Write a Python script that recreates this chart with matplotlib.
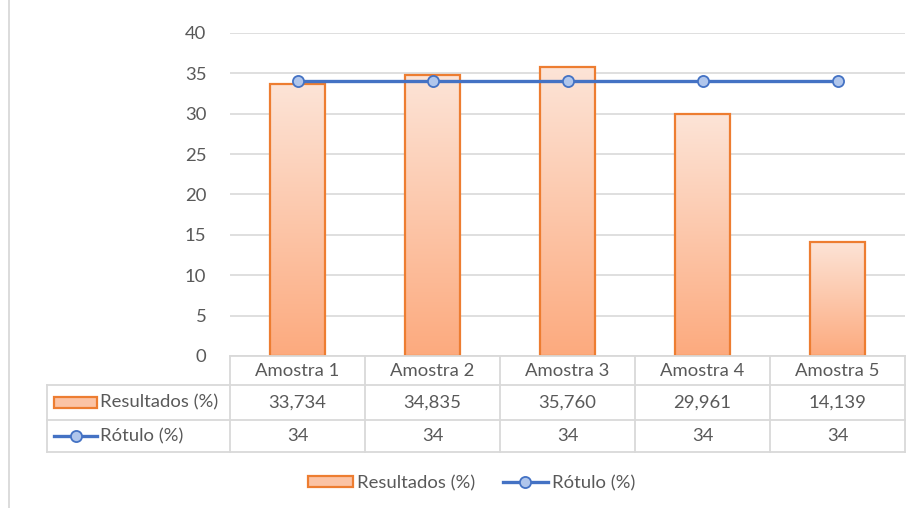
import numpy as np
import matplotlib
matplotlib.use('Agg')
import matplotlib.pyplot as plt
from matplotlib.patches import Rectangle
from matplotlib.lines import Line2D
from matplotlib.colors import LinearSegmentedColormap

# data
categorias = ['Amostra 1', 'Amostra 2', 'Amostra 3', 'Amostra 4', 'Amostra 5']
resultados = [33.734, 34.835, 35.760, 29.961, 14.139]
rotulo = [34, 34, 34, 34, 34]
resultados_txt = ['33,734', '34,835', '35,760', '29,961', '14,139']
rotulo_txt = ['34', '34', '34', '34', '34']
serie_nomes = ['Resultados (%)', 'Rótulo (%)']

plt.rcParams['font.family'] = ['Lato', 'DejaVu Sans']
cinza = '#595959'
grade = '#D9D9D9'
laranja = '#ED7D31'
azul = '#4472C4'
marcador = '#B0C6EC'

W, H = 915, 508
fig = plt.figure(figsize=(W / 100, H / 100), dpi=100)

# plot area in pixels
px_left, px_right = 230, 905
px_top, px_bottom = 33, 356
ax = fig.add_axes([px_left / W, 1 - px_bottom / H,
                   (px_right - px_left) / W, (px_bottom - px_top) / H])

fs = 13.3
n = len(categorias)
x = np.arange(n)
ax.set_xlim(-0.5, n - 0.5)
ax.set_ylim(0, 40)
ax.set_yticks(range(0, 41, 5))
ax.set_xticks([])
ax.tick_params(axis='y', length=0, pad=17, labelsize=fs, labelcolor=cinza)
for s in ax.spines.values():
    s.set_visible(False)
ax.grid(axis='y', color=grade, linewidth=1.2)
ax.set_axisbelow(True)

# gradient bars
cmap = LinearSegmentedColormap.from_list('grad', ['#FCAA7E', '#FDE4D7'])
grad = np.linspace(0, 1, 256).reshape(-1, 1)
largura = 0.41
bars = ax.bar(x, resultados, width=largura, color='none', edgecolor=laranja,
              linewidth=1.6, zorder=3)
for b in bars:
    bx, by = b.get_x(), b.get_y()
    bw, bh = b.get_width(), b.get_height()
    im = ax.imshow(grad, cmap=cmap, origin='lower', aspect='auto',
                   extent=(bx, bx + bw, by, by + bh), zorder=2)
    im.set_clip_path(b)
ax.set_xlim(-0.5, n - 0.5)
ax.set_ylim(0, 40)

ax.plot(x, rotulo, color=azul, linewidth=2.4, marker='o', markersize=8,
        markerfacecolor=marcador, markeredgecolor=azul, markeredgewidth=1.3,
        zorder=4)

# data table drawn in pixel space
tax = fig.add_axes([0, 0, 1, 1])
tax.set_xlim(0, W)
tax.set_ylim(H, 0)
tax.axis('off')
tax.patch.set_alpha(0)

tab_left = 47
row_y = [356, 385, 420, 452]
col_w = (px_right - px_left) / n
col_x = [px_left + i * col_w for i in range(n + 1)]
lc = dict(color=grade, linewidth=1.3)

tax.plot([px_left, px_right], [row_y[0], row_y[0]], **lc)
for yy in row_y[1:]:
    tax.plot([tab_left, px_right], [yy, yy], **lc)
tax.plot([tab_left, tab_left], [row_y[1], row_y[3]], **lc)
for xx in col_x:
    tax.plot([xx, xx], [row_y[0], row_y[3]], **lc)

for i in range(n):
    cx = (col_x[i] + col_x[i + 1]) / 2
    tax.text(cx, (row_y[0] + row_y[1]) / 2, categorias[i], ha='center', va='center',
             fontsize=fs, color=cinza)
    tax.text(cx, (row_y[1] + row_y[2]) / 2, resultados_txt[i], ha='center', va='center',
             fontsize=fs, color=cinza)
    tax.text(cx, (row_y[2] + row_y[3]) / 2, rotulo_txt[i], ha='center', va='center',
             fontsize=fs, color=cinza)

# legend keys in table
y1 = (row_y[1] + row_y[2]) / 2
y2 = (row_y[2] + row_y[3]) / 2
tax.add_patch(Rectangle((54, y1 - 5.5), 43, 11, facecolor='#FBC3A5',
                        edgecolor=laranja, linewidth=1.6))
tax.text(100, y1, serie_nomes[0], ha='left', va='center', fontsize=fs, color=cinza)
tax.plot([54, 97], [y2, y2], color=azul, linewidth=2.4)
tax.plot([75.5], [y2], marker='o', markersize=8, markerfacecolor=marcador,
         markeredgecolor=azul, markeredgewidth=1.3)
tax.text(100, y2, serie_nomes[1], ha='left', va='center', fontsize=fs, color=cinza)

# chart border on the left
tax.plot([9, 9], [0, H], color=grade, linewidth=1.3)

# legend
handles = [Rectangle((0, 0), 1, 1, facecolor='#FBC3A5', edgecolor=laranja, linewidth=1.6),
           Line2D([], [], color=azul, linewidth=2.4, marker='o', markersize=8,
                  markerfacecolor=marcador, markeredgecolor=azul, markeredgewidth=1.3)]
fig.legend(handles, serie_nomes, loc='center', bbox_to_anchor=(472 / W, 1 - 483 / H),
           ncol=2, frameon=False, fontsize=fs, labelcolor=cinza, handlelength=2.4,
           handletextpad=0.25, columnspacing=1.5, handleheight=0.55)

fig.savefig('out.png', dpi=100)
